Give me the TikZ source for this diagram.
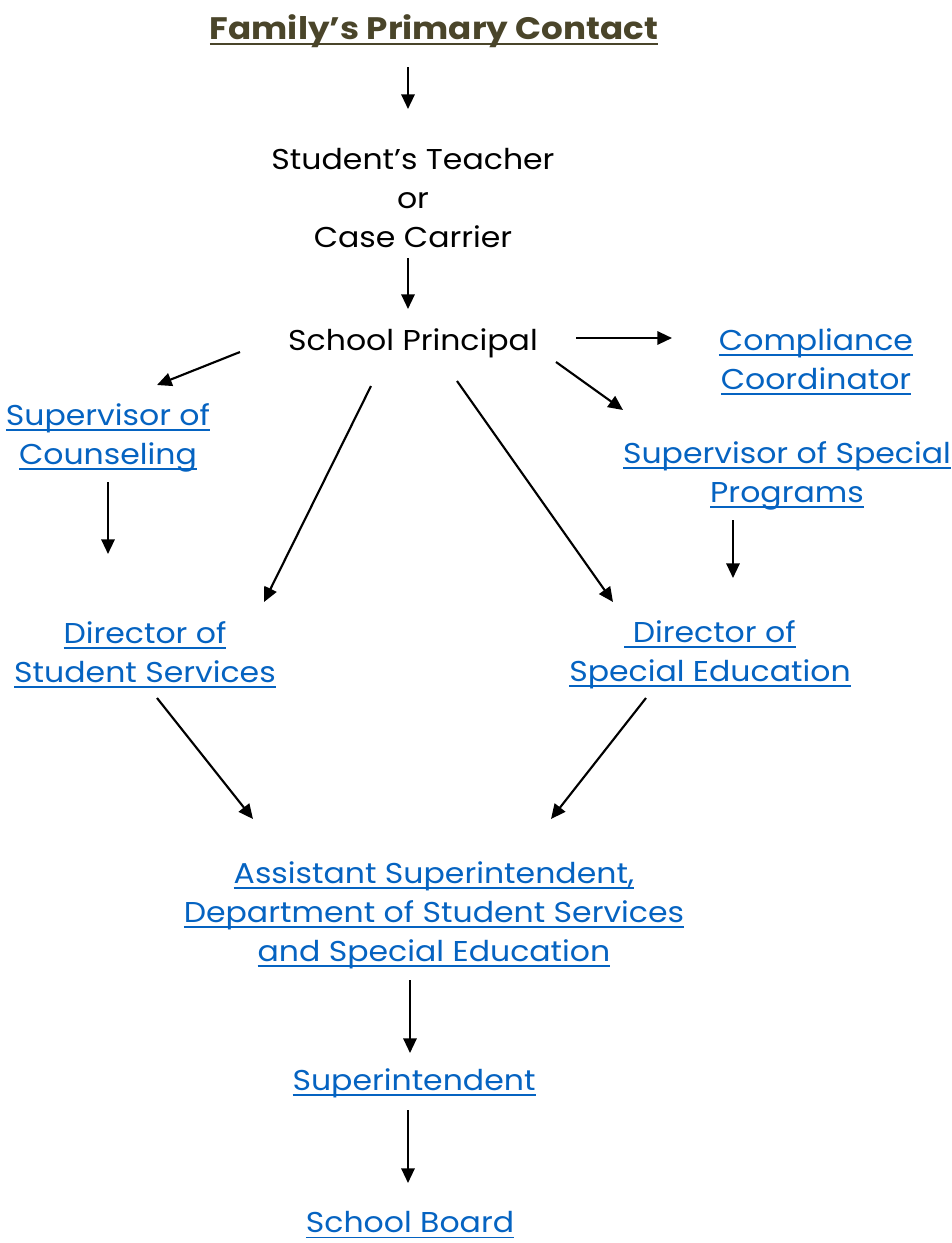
\documentclass[tikz,border=0pt]{standalone}
\usepackage{fontspec}
\setmainfont[FakeStretch=1.1]{Poppins}
\usetikzlibrary{arrows.meta}
\definecolor{linkblue}{HTML}{0563C1}
\definecolor{titlecol}{HTML}{4A452A}
\newsavebox\lkbox
\newcommand\lk[1]{\sbox\lkbox{#1}\rlap{\rule[-4.2pt]{\wd\lkbox}{1.4pt}}\usebox\lkbox}
\begin{document}
\begin{tikzpicture}[x=0.75pt,y=-0.75pt,
  txt/.style={inner sep=0pt,align=center,font=\fontsize{21.5}{29.25}\selectfont},
  link/.style={txt,text=linkblue},
  arr/.style={line width=1.6pt,-{Triangle[length=11pt,width=10pt]}}]
\useasboundingbox (0,0) rectangle (952,1243);
\node[inner sep=0pt,text=titlecol,font=\fontsize{23.3}{28}\selectfont\bfseries] (title) at (434,31) {\lk{Family’s Primary Contact}};
\node[txt] (teacher) at (413,198) {Student’s Teacher\\or\\Case Carrier};
\node[txt] (principal) at (413,343) {School Principal};
\node[link] (compliance) at (816,362) {\lk{Compliance}\\\lk{Coordinator}};
\node[link] (supcoun) at (108,438) {\lk{Supervisor of}\\\lk{Counseling}};
\node[link] (supspec) at (787,476) {\lk{Supervisor of Special}\\\lk{Programs}};
\node[link] (dirss) at (145,655) {\lk{Director of}\\\lk{Student Services}};
\node[link] (dirse) at (710,655) {\lk{\ Director of}\\\lk{Special Education}};
\node[link] (asst) at (434,915) {\lk{Assistant Superintendent,}\\\lk{Department of Student Services}\\\lk{and Special Education}};
\node[link] (super) at (414,1083) {\lk{Superintendent}};
\node[link] (board) at (410,1225) {\lk{School Board}};
% arrow end points
\coordinate (a1) at (408,67);   \coordinate (b1) at (408,109);
\coordinate (a2) at (408,258);  \coordinate (b2) at (408,309);
\coordinate (a3) at (576,338);  \coordinate (b3) at (672,338);
\coordinate (a4) at (240,352);  \coordinate (b4) at (157,385);
\coordinate (a5) at (556,362);  \coordinate (b5) at (623,410);
\coordinate (a6) at (371,386);  \coordinate (b6) at (264,602);
\coordinate (a7) at (457,381);  \coordinate (b7) at (613,602);
\coordinate (a8) at (108,482);  \coordinate (b8) at (108,554);
\coordinate (a9) at (733,520);  \coordinate (b9) at (733,578);
\coordinate (a10) at (157,698); \coordinate (b10) at (253,819);
\coordinate (a11) at (646,698); \coordinate (b11) at (551,819);
\coordinate (a12) at (410,980); \coordinate (b12) at (410,1053);
\coordinate (a13) at (408,1110);\coordinate (b13) at (408,1183);
\foreach \i in {1,...,13} {\draw[arr] (a\i) -- (b\i);}
\end{tikzpicture}
\end{document}
